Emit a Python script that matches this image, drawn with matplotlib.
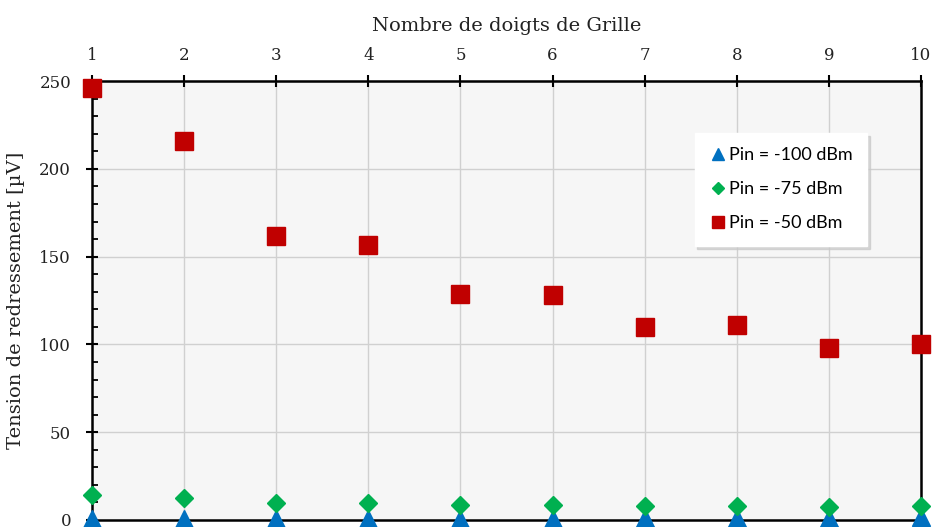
import matplotlib.pyplot as plt
from matplotlib.ticker import MultipleLocator

# data
fingers = [1, 2, 3, 4, 5, 6, 7, 8, 9, 10]
v_m100 = [0.5, 0.5, 0.6, 0.6, 0.8, 0.8, 0.9, 0.9, 1.0, 1.5]
v_m75 = [14, 12.5, 9.7, 9.7, 8.5, 8.5, 8, 8, 7.4, 8]
v_m50 = [246, 216, 162, 156.5, 128.7, 128, 110, 111, 98, 100]

fig = plt.figure(figsize=(9.33, 5.27), dpi=100)
ax = fig.add_axes([0.0986, 0.0133, 0.8885, 0.8327])
ax.set_facecolor("#f6f6f6")

ax.plot(fingers, v_m100, linestyle="none", marker="^", markersize=13,
        color="#0070c0", label="Pin = -100 dBm", clip_on=False, zorder=3)
ax.plot(fingers, v_m75, linestyle="none", marker="D", markersize=9,
        color="#00b050", label="Pin = -75 dBm", clip_on=False, zorder=3)
ax.plot(fingers, v_m50, linestyle="none", marker="s", markersize=12.5,
        color="#c00000", label="Pin = -50 dBm", clip_on=False, zorder=3)

ax.set_xlim(1, 10)
ax.set_ylim(0, 250)
ax.xaxis.tick_top()
ax.xaxis.set_label_position("top")
ax.set_xticks(fingers)
ax.yaxis.set_major_locator(MultipleLocator(50))
ax.yaxis.set_minor_locator(MultipleLocator(10))

serif = "DejaVu Serif"
ax.set_xlabel("Nombre de doigts de Grille", family=serif, fontsize=14,
              labelpad=12, color="#222222")
ax.set_ylabel("Tension de redressement [µV]", family=serif, fontsize=14,
              labelpad=10, color="#222222")
for lab in ax.get_xticklabels() + ax.get_yticklabels():
    lab.set_family(serif)
    lab.set_fontsize(12)
    lab.set_color("#222222")

ax.tick_params(axis="both", which="major", direction="inout", length=8, width=1.5)
ax.tick_params(axis="x", which="major", pad=8)
ax.tick_params(axis="y", which="major", pad=11)
ax.tick_params(axis="y", which="minor", direction="in", length=4, width=1.3)

ax.grid(True, which="major", color="#d0d0d0", linewidth=1)
ax.set_axisbelow(True)
for s in ax.spines.values():
    s.set_linewidth(1.8)
    s.set_color("black")

leg = ax.legend(loc="upper left", bbox_to_anchor=(0.727, 0.882), borderaxespad=0,
                frameon=True, shadow={"color": "#c8c8c8", "alpha": 0.7},
                fancybox=False, handletextpad=0.1, handlelength=1.0,
                labelspacing=1.0, borderpad=0.8, markerscale=0.7,
                prop={"family": "Lato", "size": 13})
leg.get_frame().set_edgecolor("white")
leg.get_frame().set_facecolor("white")

plt.savefig("out.png", dpi=100)
